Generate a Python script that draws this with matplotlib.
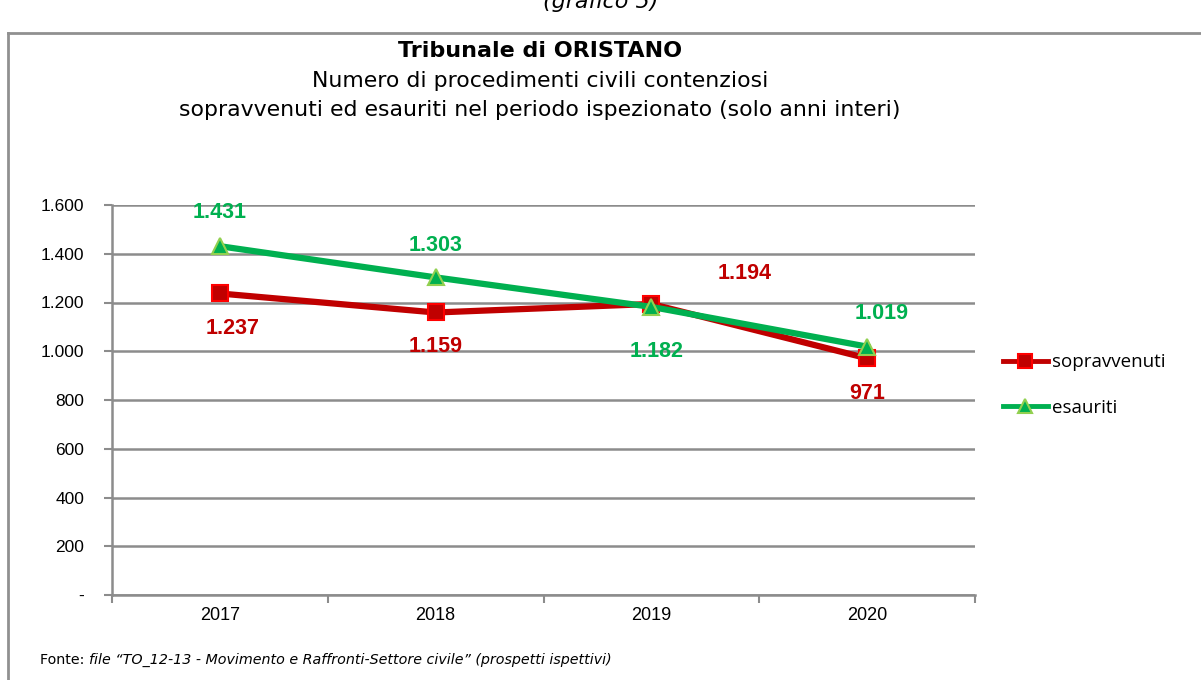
import matplotlib
matplotlib.use("Agg")
import matplotlib.pyplot as plt
from matplotlib.lines import Line2D
from matplotlib.ticker import FixedLocator, FuncFormatter

years = ["2017", "2018", "2019", "2020"]
sopravvenuti = [1237, 1159, 1194, 971]
esauriti = [1431, 1303, 1182, 1019]
y_ticks = [0, 200, 400, 600, 800, 1000, 1200, 1400, 1600]

RED = "#C00000"
RED_EDGE = "#FF0000"
GREEN = "#00B050"
GREEN_EDGE = "#92D050"
GRID = "#8C8C8C"

def fmt_it(v):
    return f"{int(v):,}".replace(",", ".")

fig = plt.figure(figsize=(12.01, 6.8), dpi=100)
W, H = 1201, 680
# axes: x 112..975, y 205..595 (pixels from top)
ax = fig.add_axes([112 / W, 1 - 595 / H, (975 - 112) / W, (595 - 205) / H])

x = list(range(len(years)))
ax.plot(x, sopravvenuti, color=RED, lw=4.5, marker="s", ms=11,
        mfc=RED, mec=RED_EDGE, mew=1.5, label="sopravvenuti", zorder=3,
        solid_joinstyle="round")
ax.plot(x, esauriti, color=GREEN, lw=4.5, marker="^", ms=11,
        mfc=GREEN, mec=GREEN_EDGE, mew=1.5, label="esauriti", zorder=4,
        solid_joinstyle="round")

ax.set_xlim(-0.5, 3.5)
ax.set_ylim(0, 1600)
ax.yaxis.set_major_locator(FixedLocator(y_ticks))
ax.yaxis.set_major_formatter(FuncFormatter(lambda v, p: "-" if v == 0 else fmt_it(v)))
ax.set_xticks(x)
ax.set_xticklabels(years)
ax.set_xticks([-0.5, 0.5, 1.5, 2.5, 3.5], minor=True)
ax.tick_params(axis="x", which="major", length=0, pad=9, labelsize=13)
ax.tick_params(axis="x", which="minor", length=6, color=GRID, width=1.5, direction="out")
ax.tick_params(axis="y", length=6, color=GRID, width=1.5, pad=14, labelsize=12.5)
for lbl in ax.get_xticklabels() + ax.get_yticklabels():
    lbl.set_fontfamily("Liberation Sans")

ax.grid(axis="y", color=GRID, lw=1.8)
ax.set_axisbelow(True)
for s in ["top", "right"]:
    ax.spines[s].set_visible(False)
ax.spines["left"].set_color(GRID)
ax.spines["left"].set_linewidth(1.8)
ax.spines["bottom"].set_color(GRID)
ax.spines["bottom"].set_linewidth(1.8)

# data labels (offsets in pixels)
red_off = [(13, -35), (0, -34), (93, 30), (0, -35)]
green_off = [(0, 34), (0, 32), (5, -45), (15, 33)]
for i in x:
    ax.annotate(fmt_it(sopravvenuti[i]), (i, sopravvenuti[i]),
                xytext=red_off[i], textcoords="offset pixels",
                ha="center", va="center", color=RED, fontsize=15.5,
                fontweight="bold", family="Liberation Sans")
    ax.annotate(fmt_it(esauriti[i]), (i, esauriti[i]),
                xytext=green_off[i], textcoords="offset pixels",
                ha="center", va="center", color=GREEN, fontsize=15.5,
                fontweight="bold", family="Liberation Sans")

leg = fig.legend(loc="center left", bbox_to_anchor=(986 / W, 1 - 385 / H),
                 frameon=False, handlelength=2.4, markerscale=0.9,
                 handletextpad=0.2, labelspacing=1.45,
                 prop={"family": "Open Sans", "size": 13.5})
for h in leg.legend_handles:
    h.set_linewidth(3.5)

# titles
fig.text(0.5, 1 - 2 / H, "(grafico 5)", ha="center", va="center",
         fontsize=16, style="italic", family="DejaVu Sans")
fig.text(540 / W, 1 - 51 / H, "Tribunale di ORISTANO", ha="center", va="center",
         fontsize=16, fontweight="bold", family="DejaVu Sans")
fig.text(540 / W, 1 - 81 / H, "Numero di procedimenti civili contenziosi",
         ha="center", va="center", fontsize=15.8, family="DejaVu Sans")
fig.text(540 / W, 1 - 110 / H,
         "sopravvenuti ed esauriti nel periodo ispezionato (solo anni interi)",
         ha="center", va="center", fontsize=15.8, family="DejaVu Sans")

fig.text(40 / W, 1 - 660 / H, "Fonte: ", ha="left", va="center",
         fontsize=10.3, family="DejaVu Sans")
fig.text(89 / W, 1 - 660 / H,
         "file \u201cTO_12-13 - Movimento e Raffronti-Settore civile\u201d (prospetti ispettivi)",
         ha="left", va="center", fontsize=10.3, style="italic", family="DejaVu Sans")

# outer frame
fig.add_artist(Line2D([8 / W, 8 / W], [0, 1 - 33 / H], color="#909090", lw=2,
                      transform=fig.transFigure))
fig.add_artist(Line2D([8 / W, 1], [1 - 33 / H, 1 - 33 / H], color="#909090", lw=2,
                      transform=fig.transFigure))

fig.savefig("out.png", dpi=100, facecolor="white")
